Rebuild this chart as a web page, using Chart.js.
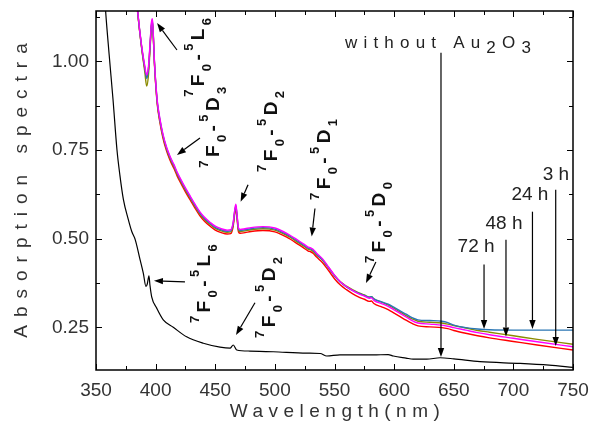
<!DOCTYPE html>
<html>
<head>
<meta charset="utf-8">
<script src="https://cdn.jsdelivr.net/npm/chart.js@4.4.1/dist/chart.umd.min.js"></script>
<style>
  html, body { margin: 0; padding: 0; background: #fff; }
  #wrap { width: 592px; height: 428px; }
</style>
</head>
<body>
<div id="wrap"><canvas id="chart" width="592" height="428"></canvas></div>
<script>
const FONT = '"Liberation Sans", Arial, sans-serif';

// --- data ---
const xTicks = [350, 400, 450, 500, 550, 600, 650, 700, 750];
const yTicks = [0.25, 0.50, 0.75, 1.00];

// without Au2O3 (black)
const blackWl = [357, 358, 361, 364.3, 367.6, 370, 373, 377, 380, 383, 387, 389.7, 391.9, 393, 394.4,
  395.2, 396.7, 400.9, 406.4, 414.8, 426, 440, 454, 462.4, 465.1, 468, 479, 498.7, 526.7, 538,
  543.5, 554.6, 582.5, 595, 599.3, 610, 616, 627.3, 638.5, 650, 672, 705.6, 730, 750];
const blackAbs = [1.2, 1.145, 1.02, 0.891, 0.75, 0.68, 0.61, 0.555, 0.52, 0.496, 0.44, 0.402, 0.365, 0.372, 0.395,
  0.37, 0.336, 0.304, 0.271, 0.25, 0.223, 0.205, 0.194, 0.191, 0.20, 0.186, 0.183, 0.181, 0.177, 0.176,
  0.169, 0.172, 0.172, 0.173, 0.169, 0.163, 0.16, 0.16, 0.164, 0.161, 0.153, 0.148, 0.143, 0.137];

// doped glasses, shared wavelength grid
const wl = [383, 385, 388, 391, 392.5, 394, 395.5, 396.5, 397.3, 398, 399, 400, 401.5, 403.5, 406,
  409, 412, 414, 415.5, 418, 421, 425, 429, 433, 437, 441, 446, 450, 455, 460,
  463, 465, 466.5, 467.3, 468.2, 469.5, 471, 475, 480, 490, 500, 510, 520, 525, 528,
  530, 532, 535, 540, 545, 550, 555, 560, 565, 570, 575, 579, 581, 583, 590,
  595, 600, 605, 610, 615, 620, 630, 640, 645, 650, 660, 670, 680, 700, 720, 750];

const redAbs = [1.216, 1.136, 1.046, 0.978, 0.955, 0.978, 1.052, 1.100, 1.110, 1.074, 0.994, 0.937, 0.875, 0.829, 0.786,
  0.749, 0.722, 0.707, 0.697, 0.677, 0.657, 0.632, 0.609, 0.586, 0.565, 0.549, 0.534, 0.524, 0.517, 0.513,
  0.514, 0.534, 0.574, 0.585, 0.559, 0.519, 0.515, 0.517, 0.520, 0.523, 0.519, 0.504, 0.483, 0.472, 0.465,
  0.463, 0.459, 0.448, 0.432, 0.410, 0.387, 0.369, 0.356, 0.345, 0.336, 0.329, 0.323, 0.324, 0.317, 0.307,
  0.300, 0.290, 0.280, 0.270, 0.261, 0.254, 0.251, 0.249, 0.246, 0.241, 0.233, 0.226, 0.220, 0.210, 0.200, 0.186];

const oliveAbs = [1.217, 1.137, 1.045, 0.968, 0.930, 0.962, 1.045, 1.100, 1.112, 1.075, 0.996, 0.940, 0.879, 0.834, 0.791,
  0.754, 0.727, 0.712, 0.702, 0.682, 0.662, 0.637, 0.614, 0.591, 0.570, 0.554, 0.539, 0.529, 0.522, 0.518,
  0.519, 0.539, 0.579, 0.590, 0.564, 0.524, 0.520, 0.522, 0.525, 0.528, 0.524, 0.509, 0.488, 0.477, 0.470,
  0.468, 0.464, 0.454, 0.439, 0.418, 0.396, 0.378, 0.366, 0.356, 0.348, 0.341, 0.335, 0.336, 0.330, 0.320,
  0.313, 0.303, 0.293, 0.283, 0.274, 0.267, 0.264, 0.262, 0.259, 0.255, 0.248, 0.241, 0.236, 0.226, 0.216, 0.202];

const blueAbs = [1.218, 1.138, 1.048, 0.980, 0.952, 0.978, 1.055, 1.105, 1.115, 1.078, 0.998, 0.943, 0.882, 0.837, 0.794,
  0.757, 0.730, 0.715, 0.705, 0.685, 0.665, 0.640, 0.617, 0.594, 0.573, 0.557, 0.542, 0.532, 0.525, 0.521,
  0.522, 0.542, 0.582, 0.593, 0.567, 0.527, 0.523, 0.525, 0.528, 0.531, 0.527, 0.512, 0.491, 0.480, 0.473,
  0.471, 0.467, 0.456, 0.440, 0.418, 0.395, 0.377, 0.364, 0.354, 0.346, 0.340, 0.335, 0.336, 0.330, 0.321,
  0.315, 0.306, 0.296, 0.287, 0.277, 0.271, 0.269, 0.267, 0.263, 0.256, 0.249, 0.245, 0.243, 0.242, 0.242, 0.242];

const magentaAbs = [1.22, 1.14, 1.05, 0.985, 0.962, 0.985, 1.06, 1.11, 1.12, 1.08, 1.00, 0.945, 0.885, 0.84, 0.797,
  0.76, 0.733, 0.718, 0.708, 0.688, 0.668, 0.643, 0.620, 0.597, 0.576, 0.560, 0.545, 0.535, 0.528, 0.524,
  0.525, 0.545, 0.585, 0.597, 0.570, 0.530, 0.526, 0.528, 0.531, 0.534, 0.530, 0.515, 0.494, 0.483, 0.476,
  0.474, 0.470, 0.459, 0.443, 0.420, 0.397, 0.378, 0.365, 0.354, 0.345, 0.338, 0.332, 0.333, 0.326, 0.316,
  0.309, 0.299, 0.289, 0.279, 0.269, 0.262, 0.259, 0.256, 0.253, 0.249, 0.242, 0.235, 0.229, 0.219, 0.209, 0.195];

// annotations, in data units (wavelength, absorbance)
const transitionLabels = [
  { at: [440.6, 0.900], level: 'L', n: '6' },
  { at: [453.1, 0.700], level: 'D', n: '3' },
  { at: [501.8, 0.688], level: 'D', n: '2' },
  { at: [546.2, 0.609], level: 'D', n: '1' },
  { at: [592.3, 0.431], level: 'D', n: '0' },
  { at: [446.0, 0.262], level: 'L', n: '6' },
  { at: [500.1, 0.220], level: 'D', n: '2' },
];
const arrows = [
  { from: [417.9, 1.032], to: [401.2, 1.108] },
  { from: [437.2, 0.784], to: [417.9, 0.736] },
  { from: [477.5, 0.652], to: [471.3, 0.604] },
  { from: [533.6, 0.585], to: [530.9, 0.506] },
  { from: [584.7, 0.434], to: [576.4, 0.375] },
  { from: [424.6, 0.378], to: [398.6, 0.381] },
  { from: [483.3, 0.319], to: [467.4, 0.228] },
  { from: [639.3, 1.024], to: [639.3, 0.166] },
  { from: [675.4, 0.427], to: [675.4, 0.245] },
  { from: [693.8, 0.497], to: [693.8, 0.224] },
  { from: [716.0, 0.576], to: [716.0, 0.245] },
  { from: [735.5, 0.638], to: [735.5, 0.197] },
];
const timeLabels = ['3 h', '24 h', '48 h', '72 h'];
const timeLabelPos = [[735.7, 0.680], [713.9, 0.623], [692.1, 0.541], [668.7, 0.476]];
const refLabelPos = [558.8, 1.055];

function series(xs, ys) {
  return xs.map((x, i) => ({ x: x, y: ys[i] }));
}

function drawArrow(ctx, x1, y1, x2, y2) {
  const ang = Math.atan2(y2 - y1, x2 - x1);
  const len = 9, half = 3.2;
  const bx = x2 - len * Math.cos(ang), by = y2 - len * Math.sin(ang);
  ctx.beginPath();
  ctx.moveTo(x1, y1);
  ctx.lineTo(bx, by);
  ctx.stroke();
  ctx.beginPath();
  ctx.moveTo(x2, y2);
  ctx.lineTo(bx + half * Math.sin(ang), by - half * Math.cos(ang));
  ctx.lineTo(bx - half * Math.sin(ang), by + half * Math.cos(ang));
  ctx.closePath();
  ctx.fill();
}

// rotated "7F0-5Xn" label, reading bottom to top
function drawTransition(ctx, px, py, level, n) {
  const parts = [
    ['7', 'sup'], ['F', 'main'], ['0', 'sub'], ['-', 'main'], ['5', 'sup'], [level, 'main'], [n, 'sub']
  ];
  ctx.save();
  ctx.translate(px, py);
  ctx.rotate(-Math.PI / 2);
  ctx.textBaseline = 'alphabetic';
  ctx.textAlign = 'left';
  let x = 0;
  parts.forEach(([t, k]) => {
    ctx.font = k === 'main' ? 'bold 19px ' + FONT : 'bold 13px ' + FONT;
    const dy = k === 'sup' ? -11 : (k === 'sub' ? 7 : 0);
    ctx.fillText(t, x, dy);
    x += ctx.measureText(t).width + 3.4;
  });
  ctx.restore();
}

const framePlugin = {
  id: 'frame',
  afterDraw(chart) {
    const ctx = chart.ctx;
    const { left, right, top, bottom } = chart.chartArea;
    const xs = chart.scales.x, ys = chart.scales.y;
    ctx.save();
    ctx.strokeStyle = '#000';
    ctx.fillStyle = '#000';
    ctx.lineWidth = 1.5;
    ctx.strokeRect(left, top, right - left, bottom - top);

    // inward ticks on all four sides
    ctx.lineWidth = 1;
    ctx.beginPath();
    for (let v = 350; v <= 750; v += 25) {
      const px = Math.round(xs.getPixelForValue(v)) + 0.5;
      const l = v % 50 === 0 ? 6 : 4;
      ctx.moveTo(px, bottom); ctx.lineTo(px, bottom - l);
      ctx.moveTo(px, top); ctx.lineTo(px, top + l);
    }
    for (let v = 0.25; v <= ys.max; v += 0.125) {
      const py = Math.round(ys.getPixelForValue(v)) + 0.5;
      const l = Math.abs(v * 4 - Math.round(v * 4)) < 1e-6 ? 6 : 4;
      ctx.moveTo(left, py); ctx.lineTo(left + l, py);
      ctx.moveTo(right, py); ctx.lineTo(right - l, py);
    }
    ctx.stroke();

    // axis titles
    ctx.fillStyle = '#333';
    ctx.font = '19px ' + FONT;
    ctx.textAlign = 'center';
    ctx.textBaseline = 'middle';
    ctx.letterSpacing = '5.5px';
    ctx.fillText('Wavelength(nm)', (left + right) / 2 + 3, 412);
    ctx.save();
    ctx.translate(22, (top + bottom) / 2);
    ctx.rotate(-Math.PI / 2);
    ctx.letterSpacing = '8px';
    ctx.fillText('Absorption spectra', 4, 0);
    ctx.restore();
    ctx.letterSpacing = '0px';

    // arrows
    ctx.strokeStyle = '#000';
    ctx.fillStyle = '#000';
    ctx.lineWidth = 1.2;
    arrows.forEach(a => {
      drawArrow(ctx,
        xs.getPixelForValue(a.from[0]), ys.getPixelForValue(a.from[1]),
        xs.getPixelForValue(a.to[0]), ys.getPixelForValue(a.to[1]));
    });

    // transition labels
    ctx.fillStyle = '#111';
    transitionLabels.forEach(l => {
      drawTransition(ctx, xs.getPixelForValue(l.at[0]), ys.getPixelForValue(l.at[1]), l.level, l.n);
    });

    // time labels
    ctx.fillStyle = '#222';
    ctx.font = '19px ' + FONT;
    ctx.textAlign = 'center';
    ctx.textBaseline = 'middle';
    timeLabels.forEach((t, i) => {
      ctx.fillText(t, xs.getPixelForValue(timeLabelPos[i][0]), ys.getPixelForValue(timeLabelPos[i][1]));
    });

    // "without Au2O3"
    ctx.textAlign = 'left';
    ctx.textBaseline = 'alphabetic';
    ctx.font = '17px ' + FONT;
    ctx.letterSpacing = '6.2px';
    let px = xs.getPixelForValue(refLabelPos[0]);
    const py = ys.getPixelForValue(refLabelPos[1]) + 6;
    [['without Au', 0], ['2', 5], ['O', 0], ['3', 5]].forEach(([t, dy]) => {
      ctx.fillText(t, px, py + dy);
      px += ctx.measureText(t).width;
    });
    ctx.restore();
  }
};

const line = (data, color, width) => ({
  data, borderColor: color, borderWidth: width, pointRadius: 0,
  cubicInterpolationMode: 'monotone', fill: false
});

// first dataset is drawn on top
new Chart(document.getElementById('chart'), {
  type: 'line',
  data: {
    datasets: [
      line(series(blackWl, blackAbs), '#000000', 1.2),
      line(series(wl, magentaAbs), '#ff00ff', 1.4),
      line(series(wl, blueAbs), '#2a76b4', 1.4),
      line(series(wl, oliveAbs), '#8a8a00', 1.4),
      line(series(wl, redAbs), '#ff0000', 1.4),
    ]
  },
  options: {
    responsive: false,
    animation: false,
    layout: { padding: { top: 11, right: 19, left: 0, bottom: 0 } },
    plugins: { legend: { display: false }, tooltip: { enabled: false } },
    scales: {
      x: {
        type: 'linear', min: 350, max: 750,
        afterBuildTicks: axis => { axis.ticks = xTicks.map(v => ({ value: v })); },
        afterFit: s => { s.height = 58; s.paddingLeft = 0; s.paddingRight = 0; },
        grid: { display: false, drawTicks: false },
        border: { display: false },
        ticks: { padding: 9, color: '#333', font: { family: FONT, size: 19 } }
      },
      y: {
        min: 0.1295, max: 1.142,
        afterBuildTicks: axis => { axis.ticks = yTicks.map(v => ({ value: v })); },
        afterFit: s => { s.width = 96; s.paddingTop = 0; s.paddingBottom = 0; },
        grid: { display: false, drawTicks: false },
        border: { display: false },
        ticks: { padding: 7, color: '#333', font: { family: FONT, size: 19 },
          callback: v => Number(v).toFixed(2) }
      }
    }
  },
  plugins: [framePlugin]
});
</script>
</body>
</html>
